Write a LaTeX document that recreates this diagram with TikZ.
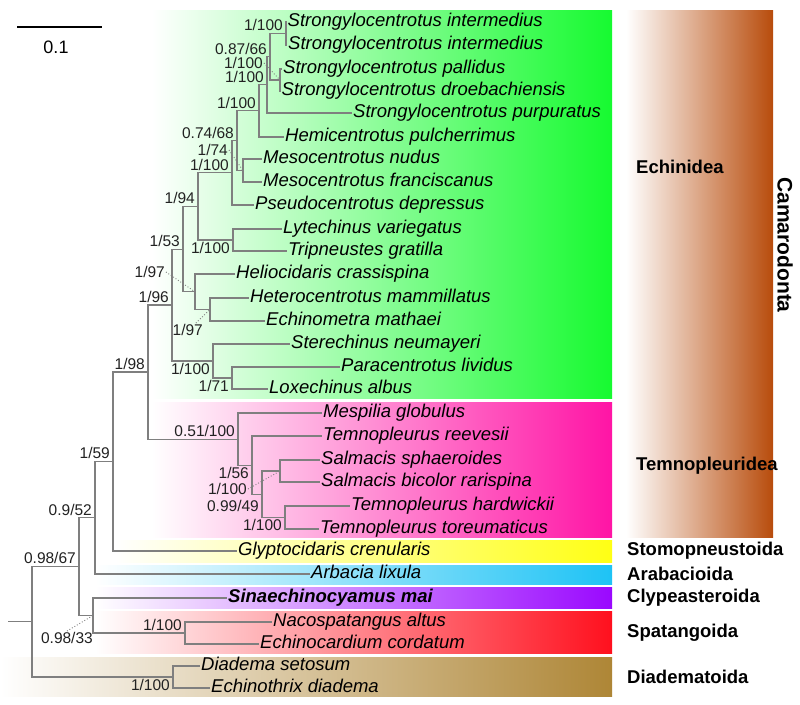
\documentclass[tikz,border=0pt]{standalone}
\usepackage{fontspec}
\setmainfont{Liberation Sans}
\usepackage{xcolor}
\usepackage{tikz}
\usetikzlibrary{calc}
\definecolor{echgreen}{HTML}{16FA30}
\definecolor{temnopink}{HTML}{FF14A5}
\definecolor{glyyellow}{HTML}{FFFF14}
\definecolor{arbcyan}{HTML}{1EC3F5}
\definecolor{clypurple}{HTML}{9A08FF}
\definecolor{spatred}{HTML}{FF101E}
\definecolor{diabrown}{HTML}{AE8636}
\definecolor{camrust}{HTML}{B84C0C}
\definecolor{branchgray}{HTML}{7F7F7F}
\definecolor{suppgray}{HTML}{222222}

\begin{document}
\begin{tikzpicture}[x=1pt, y=-1pt,
		branch/.style={draw=branchgray, line width=1.1pt},
		leader/.style={draw=branchgray, dotted, line width=0.9pt},
		taxon/.style={anchor=west, inner sep=1pt, text height=13pt, text depth=4pt, font=\fontsize{18.5}{20}\selectfont\itshape},
		supp/.style={inner sep=1pt, text height=11pt, text depth=0.5pt, text=suppgray, font=\fontsize{15.5}{17}\selectfont},
		suppup/.style={supp, anchor=south east, xshift=-2pt, yshift=1pt},
		suppdown/.style={supp, anchor=north east, xshift=-2pt, yshift=-1pt},
		clade/.style={anchor=west, inner sep=0pt, font=\fontsize{18.5}{20}\selectfont\bfseries}]
				\useasboundingbox (0,0) rectangle (800,704);
				\fill[white] (0,0) rectangle (800,704);
				\shade[left color=white, right color=echgreen] (152,10) rectangle (612,398);
				\shade[left color=white, right color=temnopink] (152,402) rectangle (612,537);
				\shade[left color=white, right color=glyyellow] (115,540) rectangle (612,562);
				\shade[left color=white, right color=arbcyan] (95,565) rectangle (612,584);
				\shade[left color=white, right color=clypurple] (95,587) rectangle (612,608);
				\shade[left color=white, right color=spatred] (95,611) rectangle (612,653);
				\shade[left color=white, right color=diabrown] (0,657) rectangle (612,696);
				\shade[left color=white, right color=camrust] (626,10) rectangle (773,537);

				\coordinate (sbL) at (17,27);
				\coordinate (sbR) at (102,27);
				\draw[line width=2.5pt] (sbL) -- (sbR);
				\node[font=\fontsize{18}{20}\selectfont] (sbT) at (56,47) {0.1};

				\node[taxon] (sInt1) at (286.5,22) {Strongylocentrotus intermedius};
				\node[taxon] (sInt2) at (287,45) {Strongylocentrotus intermedius};
				\node[taxon] (sPal) at (282,69) {Strongylocentrotus pallidus};
				\node[taxon] (sDro) at (280.5,91) {Strongylocentrotus droebachiensis};
				\node[taxon] (sPur) at (352,113) {Strongylocentrotus purpuratus};
				\node[taxon] (hPul) at (284,137) {Hemicentrotus pulcherrimus};
				\node[taxon] (mNud) at (262,159) {Mesocentrotus nudus};
				\node[taxon] (mFra) at (262,182) {Mesocentrotus franciscanus};
				\node[taxon] (pDep) at (254,205) {Pseudocentrotus depressus};
				\node[taxon] (lVar) at (282,229) {Lytechinus variegatus};
				\node[taxon] (tGra) at (287,251) {Tripneustes gratilla};
				\node[taxon] (hCra) at (235,274) {Heliocidaris crassispina};
				\node[taxon] (hMam) at (249,298) {Heterocentrotus mammillatus};
				\node[taxon] (eMat) at (265,321) {Echinometra mathaei};
				\node[taxon] (sNeu) at (290,344) {Sterechinus neumayeri};
				\node[taxon] (pLiv) at (340,367) {Paracentrotus lividus};
				\node[taxon] (lAlb) at (268,389) {Loxechinus albus};
				\node[taxon] (mGlo) at (322,413) {Mespilia globulus};
				\node[taxon] (tRee) at (322,436) {Temnopleurus reevesii};
				\node[taxon] (sSph) at (320,460) {Salmacis sphaeroides};
				\node[taxon] (sBic) at (320,482) {Salmacis bicolor rarispina};
				\node[taxon] (tHar) at (350,506) {Temnopleurus hardwickii};
				\node[taxon] (tTor) at (319,529) {Temnopleurus toreumaticus};
				\node[taxon] (gCre) at (237,551) {Glyptocidaris crenularis};
				\node[taxon] (aLix) at (310,574) {Arbacia lixula};
				\node[taxon, font=\fontsize{18.5}{20}\selectfont\bfseries\itshape] (sMai) at (227,598) {Sinaechinocyamus mai};
				\node[taxon] (nAlt) at (272,622) {Nacospatangus altus};
				\node[taxon] (eCor) at (259,644) {Echinocardium cordatum};
				\node[taxon] (dSet) at (200,666) {Diadema setosum};
				\node[taxon] (eDia) at (210,688) {Echinothrix diadema};

				\coordinate (nStrA) at (286,33.5);
				\coordinate (nStrB) at (280,80);
				\coordinate (nStrC) at (270,56.75);
				\coordinate (nStrD) at (267,84.9);
				\coordinate (nHem) at (259,110.9);
				\coordinate (nMes) at (243,170.5);
				\coordinate (nStrM) at (237,140.7);
				\coordinate (nPse) at (232,172.9);
				\coordinate (nLyt) at (233,240);
				\coordinate (nToxo) at (198,206.4);
				\coordinate (nHet) at (210,309.5);
				\coordinate (nEchm) at (195,291.8);
				\coordinate (nEchA) at (183,249.1);
				\coordinate (nPar) at (232,378);
				\coordinate (nSte) at (213,361);
				\coordinate (nEchi) at (172,305);
				\coordinate (nSal) at (280,471);
				\coordinate (nTem) at (285,517.5);
				\coordinate (nTemA) at (262,494.3);
				\coordinate (nTemB) at (252,465.1);
				\coordinate (nTemp) at (238,439.1);
				\coordinate (nCam) at (148,372);
				\coordinate (nGly) at (113,461.5);
				\coordinate (nArb) at (95,517.8);
				\coordinate (nSpa) at (185,633);
				\coordinate (nIrr) at (93,615.5);
				\coordinate (nEuc) at (79,566.6);
				\coordinate (nDia) at (173,677);
				\coordinate (nRoot) at (32,621.8);
				\coordinate (rootStub) at (8,621.8);

				\draw[branch] (nStrA) |- (sInt1.west) (nStrA) |- (sInt2.west);
				\draw[branch] (nStrB) |- (sPal.west) (nStrB) |- (sDro.west);
				\draw[branch] (nStrC) |- (nStrA) (nStrC) |- (nStrB);
				\draw[branch] (nStrD) |- (nStrC) (nStrD) |- (sPur.west);
				\draw[branch] (nHem) |- (nStrD) (nHem) |- (hPul.west);
				\draw[branch] (nMes) |- (mNud.west) (nMes) |- (mFra.west);
				\draw[branch] (nStrM) |- (nHem) (nStrM) |- (nMes);
				\draw[branch] (nPse) |- (nStrM) (nPse) |- (pDep.west);
				\draw[branch] (nLyt) |- (lVar.west) (nLyt) |- (tGra.west);
				\draw[branch] (nToxo) |- (nPse) (nToxo) |- (nLyt);
				\draw[branch] (nHet) |- (hMam.west) (nHet) |- (eMat.west);
				\draw[branch] (nEchm) |- (hCra.west) (nEchm) |- (nHet);
				\draw[branch] (nEchA) |- (nToxo) (nEchA) |- (nEchm);
				\draw[branch] (nPar) |- (pLiv.west) (nPar) |- (lAlb.west);
				\draw[branch] (nSte) |- (sNeu.west) (nSte) |- (nPar);
				\draw[branch] (nEchi) |- (nEchA) (nEchi) |- (nSte);
				\draw[branch] (nSal) |- (sSph.west) (nSal) |- (sBic.west);
				\draw[branch] (nTem) |- (tHar.west) (nTem) |- (tTor.west);
				\draw[branch] (nTemA) |- (nSal) (nTemA) |- (nTem);
				\draw[branch] (nTemB) |- (tRee.west) (nTemB) |- (nTemA);
				\draw[branch] (nTemp) |- (mGlo.west) (nTemp) |- (nTemB);
				\draw[branch] (nCam) |- (nEchi) (nCam) |- (nTemp);
				\draw[branch] (nGly) |- (nCam) (nGly) |- (gCre.west);
				\draw[branch] (nArb) |- (nGly) (nArb) |- (aLix.west);
				\draw[branch] (nSpa) |- (nAlt.west) (nSpa) |- (eCor.west);
				\draw[branch] (nIrr) |- (sMai.west) (nIrr) |- (nSpa);
				\draw[branch] (nEuc) |- (nArb) (nEuc) |- (nIrr);
				\draw[branch] (nDia) |- (dSet.west) (nDia) |- (eDia.west);
				\draw[branch] (nRoot) |- (nEuc) (nRoot) |- (nDia);
				\draw[branch] (rootStub) -- (nRoot);

				\node[suppup] (bStrA) at (nStrA) {1/100};
				\node[suppup] (bStrC) at (nStrC) {0.87/66};
				\node[suppup] (bStrD) at (nStrD) {1/100};
				\node[suppup] (bHem) at (nHem) {1/100};
				\node[suppup] (bStrM) at (nStrM) {0.74/68};
				\node[suppup] (bPse) at (nPse) {1/100};
				\node[suppup] (bToxo) at (nToxo) {1/94};
				\node[suppup] (bEchA) at (nEchA) {1/53};
				\node[suppup] (bEchi) at (nEchi) {1/96};
				\node[suppup] (bCam) at (nCam) {1/98};
				\node[suppup] (bTemp) at (nTemp) {0.51/100};
				\node[suppup] (bGly) at (nGly) {1/59};
				\node[suppup] (bArb) at (nArb) {0.9/52};
				\node[suppup] (bEuc) at (nEuc) {0.98/67};
				\node[suppup] (bSpa) at (nSpa) {1/100};
				\node[suppdown] (bLyt) at (nLyt) {1/100};
				\node[suppdown] (bSte) at (nSte) {1/100};
				\node[suppdown] (bPar) at (nPar) {1/71};
				\node[suppdown] (bTemB) at (nTemB) {1/56};
				\node[suppdown, yshift=-4pt] (bTemA) at (nTemA) {0.99/49};
				\node[suppdown] (bTem) at (nTem) {1/100};
				\node[suppdown] (bDia) at (nDia) {1/100};

				\node[supp, anchor=east] (bStrB) at (264,63) {1/100};
				\node[supp, anchor=east] (bMes) at (229,150) {1/74};
				\node[supp, anchor=east] (bEchm) at (166,272) {1/97};
				\node[supp, anchor=east] (bHet) at (204,330) {1/97};
				\node[supp, anchor=east] (bSal) at (248,489) {1/100};
				\node[supp, anchor=east] (bIrr) at (94,638) {0.98/33};
				\draw[leader] (bStrB.east) -- (nStrB);
				\draw[leader] (bMes.east) -- (nMes);
				\draw[leader] (bEchm.east) -- (nEchm);
				\draw[leader] ($(bHet.north)!0.5!(bHet.north east)$) -- (nHet);
				\draw[leader] (bSal.east) -- (nSal);
				\draw[leader] (bIrr.north) -- (nIrr);

				\node[clade] (cEchi) at (636,167) {Echinidea};
				\node[clade] (cTemp) at (636,466) {Temnopleuridea};
				\node[clade] (cStom) at (627,551) {Stomopneustoida};
				\node[clade] (cArba) at (627,574) {Arabacioida};
				\node[clade] (cClyp) at (627,598) {Clypeasteroida};
				\node[clade] (cSpat) at (627,633) {Spatangoida};
				\node[clade] (cDiad) at (627,677) {Diadematoida};
				\node[rotate=-90, inner sep=0pt, font=\fontsize{21}{23}\selectfont\bfseries] (cCama) at (785,245) {Camarodonta};
			\end{tikzpicture}
\end{document}
